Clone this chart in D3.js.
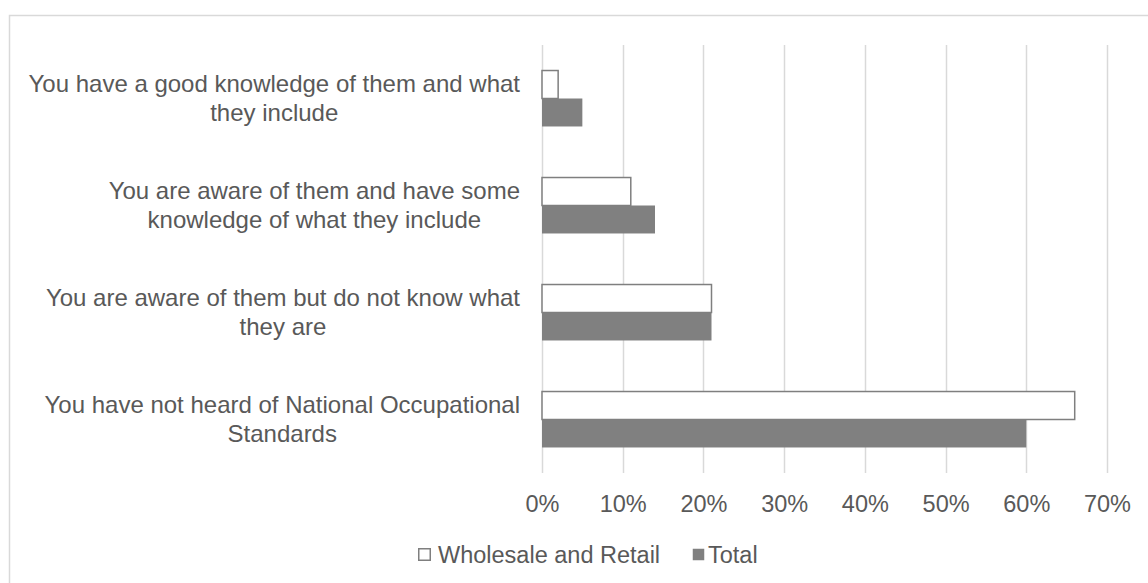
<!DOCTYPE html>
<html>
<head>
<meta charset="utf-8">
<script src="https://cdn.jsdelivr.net/npm/d3@7"></script>
<style>
    body { margin: 0; background: #fff; }
    svg { font-family: "Liberation Sans", Arial, sans-serif; }
    .axis text { fill: #595959; }
</style>
</head>
<body>
<div id="chart-area"></div>
<script>

// Data
var categories = [
    ["You have a good knowledge of them and what", "they include"],
    ["You are aware of them and have some", "knowledge of what they include"],
    ["You are aware of them but do not know what", "they are"],
    ["You have not heard of National Occupational", "Standards"]
];
var seriesNames = ["Wholesale and Retail", "Total"];
var wholesaleValues = [0.02, 0.11, 0.21, 0.66];
var totalValues = [0.05, 0.14, 0.21, 0.60];
var tickValues = [0, 0.1, 0.2, 0.3, 0.4, 0.5, 0.6, 0.7];


/*
 * BarVis - grouped horizontal bars
 */

BarVis = function(_parentElement) {
    this.parentElement = _parentElement;
    this.initVis();
};

BarVis.prototype.initVis = function() {
    var vis = this;

    vis.width = 1148;
    vis.height = 583;
    vis.fontSize = 23.5;

    vis.svg = d3.select("#" + vis.parentElement).append("svg")
        .attr("width", vis.width)
        .attr("height", vis.height);

    // chart frame (runs off the right/bottom edge like the original)
    vis.svg.append("rect")
        .attr("x", 9.5)
        .attr("y", 15.5)
        .attr("width", 1160)
        .attr("height", 600)
        .attr("fill", "none")
        .attr("stroke", "#d9d9d9")
        .attr("stroke-width", 1.5);

    vis.plot = { left: 542, right: 1107, top: 45, bottom: 473 };

    vis.x = d3.scaleLinear()
        .domain([0, 0.7])
        .range([vis.plot.left, vis.plot.right]);

    vis.y = d3.scaleBand()
        .domain(d3.range(categories.length))
        .range([vis.plot.top, vis.plot.bottom])
        .paddingInner(0.477)
        .paddingOuter(0.2385);

    vis.ySeries = d3.scaleBand()
        .domain(seriesNames)
        .range([0, vis.y.bandwidth()]);

    vis.xAxis = d3.axisBottom(vis.x)
        .tickValues(tickValues)
        .tickSize(0)
        .tickFormat(d3.format(".0%"));

    vis.wrangleData();
};

BarVis.prototype.wrangleData = function() {
    var vis = this;

    vis.displayData = categories.map(function(c, i) {
        return {
            index: i,
            lines: c,
            values: [
                { key: seriesNames[0], value: wholesaleValues[i] },
                { key: seriesNames[1], value: totalValues[i] }
            ]
        };
    });

    vis.updateVis();
};

BarVis.prototype.updateVis = function() {
    var vis = this;

    // gridlines
    vis.svg.append("g").selectAll("line")
        .data(tickValues)
        .enter().append("line")
        .attr("x1", function(d) { return Math.round(vis.x(d)) + 0.5; })
        .attr("x2", function(d) { return Math.round(vis.x(d)) + 0.5; })
        .attr("y1", vis.plot.top)
        .attr("y2", vis.plot.bottom)
        .attr("stroke", "#d9d9d9")
        .attr("stroke-width", 1.5);

    // bars
    var groups = vis.svg.append("g").selectAll(".group")
        .data(vis.displayData)
        .enter().append("g")
        .attr("class", "group")
        .attr("transform", function(d) { return "translate(0," + vis.y(d.index) + ")"; });

    groups.selectAll("rect")
        .data(function(d) { return d.values; })
        .enter().append("rect")
        .attr("x", vis.x(0))
        .attr("y", function(d) { return vis.ySeries(d.key); })
        .attr("width", function(d) { return vis.x(d.value) - vis.x(0); })
        .attr("height", vis.ySeries.bandwidth())
        .attr("fill", function(d) { return d.key === "Total" ? "#808080" : "#ffffff"; })
        .attr("stroke", function(d) { return d.key === "Total" ? "none" : "#7f7f7f"; })
        .attr("stroke-width", 1.5);

    // category labels: block right-aligned, lines centred on each other
    var labelRight = 520;
    var labels = vis.svg.append("g")
        .attr("font-size", 24)
        .attr("fill", "#595959");

    vis.displayData.forEach(function(d) {
        var t = labels.append("text").attr("text-anchor", "middle");
        var spans = t.selectAll("tspan")
            .data(d.lines)
            .enter().append("tspan")
            .text(function(s) { return s; });
        var maxW = 0;
        spans.each(function() { maxW = Math.max(maxW, this.getComputedTextLength()); });
        var cx = labelRight - maxW / 2;
        var cy = vis.y(d.index) + vis.y.bandwidth() / 2;
        spans.attr("x", cx)
            .attr("y", function(s, i) { return cy + (i - (d.lines.length - 1) / 2) * 29; })
            .attr("dy", "0.35em");
    });

    // x axis
    var axis = vis.svg.append("g")
        .attr("class", "axis")
        .attr("transform", "translate(0," + vis.plot.bottom + ")")
        .call(vis.xAxis);
    axis.select(".domain").remove();
    axis.selectAll("text")
        .attr("font-size", vis.fontSize)
        .attr("font-family", null)
        .attr("dy", null)
        .attr("y", 39);

    // legend
    var legend = vis.svg.append("g")
        .attr("font-size", vis.fontSize)
        .attr("fill", "#595959");

    var legendItems = [
        { name: seriesNames[0], x: 418, textX: 438, fill: "#ffffff", stroke: "#7f7f7f" },
        { name: seriesNames[1], x: 692, textX: 708, fill: "#808080", stroke: "none" }
    ];

    legendItems.forEach(function(item) {
        legend.append("rect")
            .attr("x", item.x + 0.75)
            .attr("y", 548.75)
            .attr("width", 11.5)
            .attr("height", 11.5)
            .attr("fill", item.fill)
            .attr("stroke", item.stroke)
            .attr("stroke-width", 1.5);
        legend.append("text")
            .attr("x", item.textX)
            .attr("y", 562.5)
            .text(item.name);
    });
};

var barVis = new BarVis("chart-area");

</script>
</body>
</html>
